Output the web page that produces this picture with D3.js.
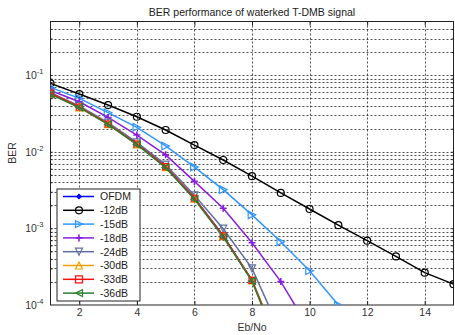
<!DOCTYPE html>
<html>
<head>
<meta charset="utf-8">
<script src="https://cdn.jsdelivr.net/npm/d3@7"></script>
<style>
    body { margin: 0; background: #fff; }
    #chart { width: 455px; height: 335px; }
    text { font-family: "Liberation Sans", Arial, Helvetica, sans-serif; }
</style>
</head>
<body>
<div id="chart"></div>
<script>
// Eb/No points (dB)
var ebno = [1, 2, 3, 4, 5, 6, 7, 8, 9, 10, 11, 12, 13, 14, 15];

// BER per watermark level
var berOfdm = [0.058, 0.0385, 0.0232, 0.0127, 0.0064, 0.0025, 0.0008, 0.00021, 0.000026];
var ber12 = [0.078, 0.0565, 0.0406, 0.0286, 0.0192, 0.0122, 0.0078, 0.0048, 0.0029, 0.00179, 0.0011, 0.00069, 0.00043, 0.000264, 0.000187];
var ber15 = [0.069, 0.0497, 0.0323, 0.0208, 0.0119, 0.0063, 0.0032, 0.0015, 0.00067, 0.00028, 0.0001];
var ber18 = [0.063, 0.0449, 0.028, 0.0165, 0.0091, 0.0041, 0.00183, 0.00065, 0.000202, 0.000048];
var ber24 = [0.059, 0.0395, 0.024, 0.0132, 0.0068, 0.0027, 0.00099, 0.0003, 0.000044];
var ber30 = [0.057, 0.038, 0.0229, 0.0125, 0.0063, 0.00245, 0.00079, 0.00021, 0.000027];
var ber33 = [0.058, 0.0383, 0.023, 0.0126, 0.0064, 0.00247, 0.0008, 0.00021, 0.000025];
var ber36 = [0.056, 0.0378, 0.0227, 0.0124, 0.0062, 0.0024, 0.00077, 0.000205, 0.000024];

var seriesNames = ["OFDM", "-12dB", "-15dB", "-18dB", "-24dB", "-30dB", "-33dB", "-36dB"];
var seriesValues = [berOfdm, ber12, ber15, ber18, ber24, ber30, ber33, ber36];
var seriesColors = ["#0000ff", "#000000", "#2f96ff", "#8a1ee0", "#5f6f9f", "#f0a000", "#ff1010", "#2e7d32"];
var seriesMarkers = ["diamond", "circle", "tright", "plus", "tdown", "tup", "square", "tleft"];

var xTicks = [2, 4, 6, 8, 10, 12, 14];
var yTicks = [1e-4, 1e-3, 1e-2, 1e-1];
var yTickLabels = ["-4", "-3", "-2", "-1"];

var chartTitle = "BER performance of waterked T-DMB signal";

BerChart = function(_parentElement) {
    this.parentElement = _parentElement;
    this.initVis();
};

BerChart.prototype.initVis = function() {
    var vis = this;

    vis.width = 455;
    vis.height = 335;
    vis.plot = {left: 50.5, right: 453.5, top: 21.5, bottom: 305};

    vis.svg = d3.select("#" + vis.parentElement).append("svg")
        .attr("width", vis.width)
        .attr("height", vis.height);

    vis.svg.append("rect")
        .attr("width", vis.width)
        .attr("height", vis.height)
        .attr("fill", "#fff");

    vis.x = d3.scaleLinear().domain([1, 15]).range([vis.plot.left, vis.plot.right]);
    vis.y = d3.scaleLog().domain([1e-4, 0.5]).range([vis.plot.bottom, vis.plot.top]);

    vis.svg.append("clipPath").attr("id", "clip")
        .append("rect")
        .attr("x", vis.plot.left)
        .attr("y", vis.plot.top)
        .attr("width", vis.plot.right - vis.plot.left)
        .attr("height", vis.plot.bottom - vis.plot.top);

    // minor + major log grid values
    vis.yGrid = [];
    [1e-4, 1e-3, 1e-2, 1e-1].forEach(function(d) {
        for (var k = 1; k <= 9; k++) {
            var v = d * k;
            if (v > 1e-4 && v < 0.5) vis.yGrid.push(v);
        }
    });

    vis.drawGrid();
    vis.drawAxes();
    vis.drawSeries();
    vis.drawLegend();
};

BerChart.prototype.drawGrid = function() {
    var vis = this;
    var g = vis.svg.append("g").attr("class", "grid");

    g.selectAll(".ygrid")
        .data(vis.yGrid)
        .enter().append("line")
        .attr("x1", vis.plot.left)
        .attr("x2", vis.plot.right)
        .attr("y1", function(d) { return Math.round(vis.y(d)) + 0.5; })
        .attr("y2", function(d) { return Math.round(vis.y(d)) + 0.5; })
        .attr("stroke", "#222")
        .attr("stroke-width", 0.8)
        .attr("stroke-dasharray", "2,2");

    g.selectAll(".xgrid")
        .data(xTicks)
        .enter().append("line")
        .attr("x1", function(d) { return Math.round(vis.x(d)) + 0.5; })
        .attr("x2", function(d) { return Math.round(vis.x(d)) + 0.5; })
        .attr("y1", vis.plot.top)
        .attr("y2", vis.plot.bottom)
        .attr("stroke", "#222")
        .attr("stroke-width", 0.8)
        .attr("stroke-dasharray", "2,2");
};

BerChart.prototype.drawAxes = function() {
    var vis = this;
    var p = vis.plot;

    // x ticks (inward, bottom and top)
    var xa = vis.svg.append("g").attr("transform", "translate(0," + p.bottom + ")")
        .call(d3.axisBottom(vis.x).tickValues(xTicks).tickSizeInner(-4).tickSizeOuter(0).tickPadding(4));
    xa.select(".domain").remove();
    xa.selectAll("text").attr("font-size", 10.5).attr("fill", "#333");

    var xt = vis.svg.append("g").attr("transform", "translate(0," + p.top + ")")
        .call(d3.axisTop(vis.x).tickValues(xTicks).tickSizeInner(-4).tickSizeOuter(0).tickFormat(""));
    xt.select(".domain").remove();

    // y ticks: major and minor, left and right
    var yl = vis.svg.append("g").attr("transform", "translate(" + p.left + ",0)")
        .call(d3.axisLeft(vis.y).tickValues(vis.yGrid).tickSizeInner(-2).tickSizeOuter(0).tickFormat(""));
    yl.select(".domain").remove();
    var yr = vis.svg.append("g").attr("transform", "translate(" + p.right + ",0)")
        .call(d3.axisRight(vis.y).tickValues(vis.yGrid).tickSizeInner(-2).tickSizeOuter(0).tickFormat(""));
    yr.select(".domain").remove();

    vis.svg.selectAll(".tick line").attr("stroke", "#222");

    // y tick labels with superscript
    var labels = vis.svg.selectAll(".ylab")
        .data(yTicks)
        .enter().append("text")
        .attr("class", "ylab")
        .attr("x", p.left - 7)
        .attr("y", function(d) { return vis.y(d) + 4; })
        .attr("text-anchor", "end")
        .attr("font-size", 10.5)
        .attr("fill", "#333");
    labels.append("tspan").text("10");
    labels.append("tspan")
        .attr("dy", -5)
        .attr("font-size", 7.5)
        .text(function(d, i) { return yTickLabels[i]; });

    // box
    vis.svg.append("rect")
        .attr("x", p.left)
        .attr("y", p.top)
        .attr("width", p.right - p.left)
        .attr("height", p.bottom - p.top)
        .attr("fill", "none")
        .attr("stroke", "#222")
        .attr("stroke-width", 1);

    vis.svg.append("text")
        .attr("x", (p.left + p.right) / 2)
        .attr("y", 16)
        .attr("text-anchor", "middle")
        .attr("font-size", 10.5)
        .attr("fill", "#222")
        .text(chartTitle);

    vis.svg.append("text")
        .attr("x", (p.left + p.right) / 2)
        .attr("y", 331)
        .attr("text-anchor", "middle")
        .attr("font-size", 10.5)
        .attr("fill", "#333")
        .text("Eb/No");

    vis.svg.append("text")
        .attr("transform", "translate(16,153) rotate(-90)")
        .attr("text-anchor", "middle")
        .attr("font-size", 10.5)
        .attr("fill", "#333")
        .text("BER");
};

BerChart.prototype.marker = function(sel, type, color, size) {
    var s = size;
    var path;
    if (type == "circle") {
        sel.append("circle").attr("r", s).attr("fill", "none").attr("stroke", color).attr("stroke-width", 1.2);
        return;
    }
    if (type == "square") path = "M" + (-s) + "," + (-s) + "H" + s + "V" + s + "H" + (-s) + "Z";
    if (type == "diamond") path = "M0," + (-s) + "L" + s + ",0L0," + s + "L" + (-s) + ",0Z";
    if (type == "tright") path = "M" + s + ",0L" + (-s) + "," + (-s) + "L" + (-s) + "," + s + "Z";
    if (type == "tleft") path = "M" + (-s) + ",0L" + s + "," + (-s) + "L" + s + "," + s + "Z";
    if (type == "tup") path = "M0," + (-s) + "L" + s + "," + s + "L" + (-s) + "," + s + "Z";
    if (type == "tdown") path = "M0," + s + "L" + s + "," + (-s) + "L" + (-s) + "," + (-s) + "Z";
    if (type == "plus") path = "M" + (-s) + ",0H" + s + "M0," + (-s) + "V" + s;
    sel.append("path")
        .attr("d", path)
        .attr("fill", type == "diamond" ? color : "none")
        .attr("stroke", color)
        .attr("stroke-width", type == "plus" ? 1.6 : 1.2);
};

BerChart.prototype.drawSeries = function() {
    var vis = this;

    var line = d3.line()
        .x(function(d) { return vis.x(d[0]); })
        .y(function(d) { return vis.y(d[1]); });

    var g = vis.svg.append("g").attr("clip-path", "url(#clip)");

    seriesValues.forEach(function(vals, i) {
        var pts = vals.map(function(v, j) { return [ebno[j], v]; });
        g.append("path")
            .datum(pts)
            .attr("d", line)
            .attr("fill", "none")
            .attr("stroke", seriesColors[i])
            .attr("stroke-width", 1.5);

        var sizes = [2.2, 3.5, 3.8, 3.5, 3.5, 3.5, 3, 3.5];
        pts.filter(function(d) { return d[1] >= 1e-4; }).forEach(function(d) {
            var m = g.append("g").attr("transform", "translate(" + vis.x(d[0]) + "," + vis.y(d[1]) + ")");
            vis.marker(m, seriesMarkers[i], seriesColors[i], sizes[i]);
        });
    });
};

BerChart.prototype.drawLegend = function() {
    var vis = this;
    var lg = vis.svg.append("g").attr("class", "legend");

    lg.append("rect")
        .attr("x", 57)
        .attr("y", 189)
        .attr("width", 83)
        .attr("height", 112)
        .attr("fill", "#fff")
        .attr("stroke", "#222")
        .attr("stroke-width", 1);

    var rowH = 13.8;
    seriesNames.forEach(function(name, i) {
        var yy = 196.5 + i * rowH;
        lg.append("line")
            .attr("x1", 63)
            .attr("x2", 94)
            .attr("y1", yy)
            .attr("y2", yy)
            .attr("stroke", seriesColors[i])
            .attr("stroke-width", 1.5);
        var m = lg.append("g").attr("transform", "translate(79," + yy + ")");
        vis.marker(m, seriesMarkers[i], seriesColors[i], i == 0 ? 2.2 : 3.5);
        lg.append("text")
            .attr("x", 100)
            .attr("y", yy + 3.8)
            .attr("font-size", 10.5)
            .attr("fill", "#222")
            .text(name);
    });
};

var berChart = new BerChart("chart");
</script>
</body>
</html>
